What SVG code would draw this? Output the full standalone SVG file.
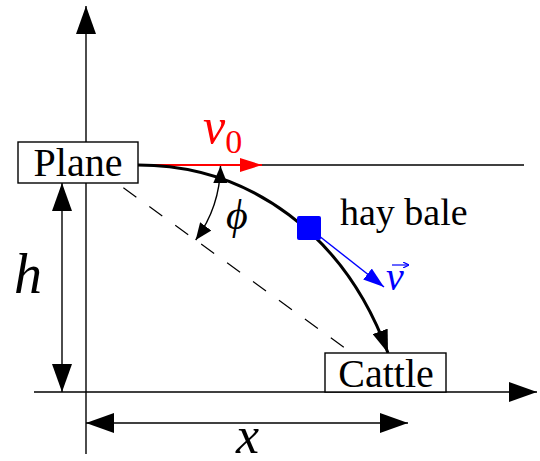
<svg xmlns="http://www.w3.org/2000/svg" width="540" height="461" viewBox="0 0 540 461" font-family="'Liberation Serif', serif">
<style>
.ln{fill:none;stroke:#000;stroke-width:1.4}
.box{fill:#fff;stroke:#000;stroke-width:1.4}
text,tspan{font-family:"Liberation Serif","Times New Roman",serif !important}
</style>
<defs>
<marker id="big" markerUnits="userSpaceOnUse" markerWidth="28" markerHeight="20" viewBox="0 0 28 20" refX="28" refY="10" orient="auto-start-reverse"><path d="M0,0 L28,10 L0,20 z" fill="#000"/></marker>
<marker id="trj" markerUnits="userSpaceOnUse" markerWidth="23" markerHeight="16" viewBox="0 0 23 16" refX="23" refY="8" orient="auto"><path d="M0,0 L23,8 L0,16 z" fill="#000"/></marker>
<marker id="sm" markerUnits="userSpaceOnUse" markerWidth="17" markerHeight="14" viewBox="0 0 17 14" refX="17" refY="7" orient="auto-start-reverse"><path d="M0,0 L17,7 L0,14 z" fill="#000"/></marker>
<marker id="red" markerUnits="userSpaceOnUse" markerWidth="22" markerHeight="14" viewBox="0 0 22 14" refX="22" refY="7" orient="auto"><path d="M0,0 L22,7 L0,14 z" fill="#f00"/></marker>
<marker id="blue" markerUnits="userSpaceOnUse" markerWidth="21" markerHeight="14" viewBox="0 0 21 14" refX="21" refY="7" orient="auto"><path d="M0,0 L21,7 L0,14 z" fill="#00f"/></marker>
<marker id="acc" markerUnits="userSpaceOnUse" markerWidth="6" markerHeight="6" viewBox="0 0 6 6" refX="6" refY="3" orient="auto"><path d="M0,0 L6,3 L0,6" fill="none" stroke="#00f" stroke-width="1.2"/></marker>
</defs>
<g id="connectors">
<line class="ln" x1="86" y1="454" x2="86" y2="6" marker-end="url(#big)"/>
<line class="ln" x1="34" y1="392" x2="537" y2="392" marker-end="url(#big)"/>
<line class="ln" x1="62" y1="183" x2="62" y2="392" marker-start="url(#big)" marker-end="url(#big)"/>
<line class="ln" x1="86" y1="423" x2="408" y2="423" marker-start="url(#big)" marker-end="url(#big)"/>
<line class="ln" x1="138" y1="165" x2="524" y2="165"/>
<line x1="78" y1="155" x2="385" y2="377" stroke="#000" stroke-width="1.2" stroke-dasharray="16,16" stroke-dashoffset="8"/>
<line x1="138" y1="165" x2="262" y2="165" stroke="#f00" stroke-width="1.8" marker-end="url(#red)"/>
<path d="M138,165 C250,165 345,235 388,353" fill="none" stroke="#000" stroke-width="3" marker-end="url(#trj)"/>
<path class="ln" d="M195.7,240 A128,128 0 0 0 220.5,166" marker-start="url(#sm)" marker-end="url(#sm)"/>
<line x1="309" y1="228" x2="384" y2="287" stroke="#00f" stroke-width="1.4" marker-end="url(#blue)"/>
</g>
<g id="plane">
<rect class="box" x="18" y="142" width="120" height="41"/>
<text x="78" y="176" style="font-family:'Liberation Serif',serif !important" font-size="40" text-anchor="middle">Plane</text>
</g>
<g id="cattle">
<rect class="box" x="325" y="353" width="121" height="39"/>
<text x="386" y="387" style="font-family:'Liberation Serif',serif !important" font-size="40" text-anchor="middle">Cattle</text>
</g>
<g id="bale">
<rect x="297" y="216" width="24" height="24" rx="2" fill="#00f"/>
<text x="340" y="225" style="font-family:'Liberation Serif',serif !important" font-size="38">hay bale</text>
</g>
<g id="labels">
<text x="203" y="143" style="font-family:'Liberation Serif',serif !important" font-style="italic" font-size="50" fill="#f00">v<tspan font-style="normal" font-size="34" dy="10">0</tspan></text>
<text x="226" y="229" style="font-family:'Liberation Serif',serif !important" font-style="italic" font-size="42" fill="#000">ϕ</text>
<text x="386" y="290" style="font-family:'Liberation Serif',serif !important" font-style="italic" font-size="40" fill="#00f">v</text>
<line x1="392" y1="265" x2="409" y2="265" stroke="#00f" stroke-width="1.2" marker-end="url(#acc)"/>
<text x="14" y="293" style="font-family:'Liberation Serif',serif !important" font-style="italic" font-size="56" fill="#000">h</text>
<text x="236" y="453" style="font-family:'Liberation Serif',serif !important" font-style="italic" font-size="52" fill="#000">x</text>
</g>
</svg>
